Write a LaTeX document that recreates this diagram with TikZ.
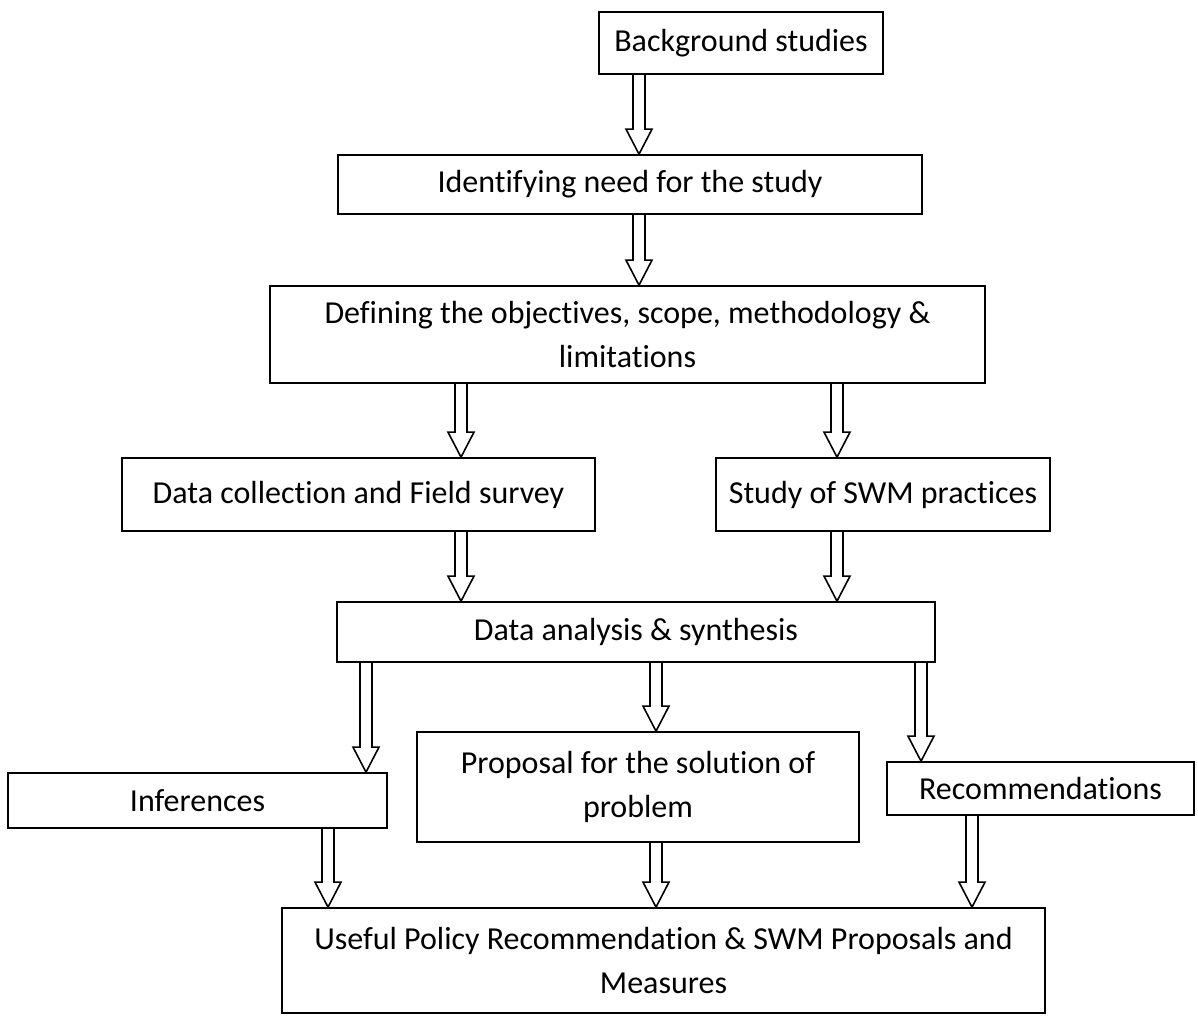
\documentclass[tikz,border=0pt]{standalone}
\usepackage{fontspec}
\setmainfont{Carlito}[Ligatures=NoCommon]
\usetikzlibrary{calc}
\tikzset{
  box/.style={draw, line width=1.3pt, inner sep=0pt, align=center,
    font=\fontsize{24}{33}\selectfont},
  harrow/.style={draw, line width=1.2pt, line join=miter},
}
% name, x1, y1, x2, y2, text  (pixel units, y downwards)
\newcommand\mkbox[6]{\node[box, minimum width={(#4-#2)*0.75pt},
  minimum height={(#5-#3)*0.75pt}] (#1) at ({(#2+#4)/2},{(#3+#5)/2}) {#6};}
% hollow block arrow: from anchor, to anchor, x coordinate name
\newcommand\harr[3]{\draw[harrow]
  ($(#1 -| #3)+(-6,0)$) -- ($(#2 -| #3)+(-6,-25)$) -- ($(#2 -| #3)+(-13,-25)$)
  -- (#2 -| #3) -- ($(#2 -| #3)+(13,-25)$) -- ($(#2 -| #3)+(6,-25)$)
  -- ($(#1 -| #3)+(6,0)$);}
\begin{document}
\begin{tikzpicture}[x=0.75pt, y=-0.75pt]
\useasboundingbox (0,0) rectangle (1198,1015);

\mkbox{bg}{599}{12}{883}{74}{Background studies}
\mkbox{need}{338}{155}{922}{214}{Identifying need for the study}
\mkbox{def}{270}{286}{985}{383}{Defining the objectives, scope, methodology \&\\limitations}
\mkbox{data}{122}{458}{595}{531}{Data collection and Field survey}
\mkbox{swm}{716}{458}{1050}{531}{Study of SWM practices}
\mkbox{ana}{337}{602}{935}{662}{Data analysis \& synthesis}
\mkbox{inf}{8}{773}{387}{828}{Inferences}
\mkbox{prop}{417}{732}{859}{842}{Proposal for the solution of\\problem}
\mkbox{rec}{887}{762}{1194}{815}{Recommendations}
\mkbox{final}{282}{908}{1045}{1013}{Useful Policy Recommendation \& SWM Proposals and\\Measures}

\coordinate (xa) at (639,0);
\coordinate (xb) at (461,0);
\coordinate (xc) at (837,0);
\coordinate (xd) at (366,0);
\coordinate (xe) at (656,0);
\coordinate (xf) at (921,0);
\coordinate (xg) at (328,0);
\coordinate (xh) at (972,0);

\harr{bg.south}{need.north}{xa}
\harr{need.south}{def.north}{xa}
\harr{def.south}{data.north}{xb}
\harr{def.south}{swm.north}{xc}
\harr{data.south}{ana.north}{xb}
\harr{swm.south}{ana.north}{xc}
\harr{ana.south}{inf.north}{xd}
\harr{ana.south}{prop.north}{xe}
\harr{ana.south}{rec.north}{xf}
\harr{inf.south}{final.north}{xg}
\harr{prop.south}{final.north}{xe}
\harr{rec.south}{final.north}{xh}
\end{tikzpicture}
\end{document}
